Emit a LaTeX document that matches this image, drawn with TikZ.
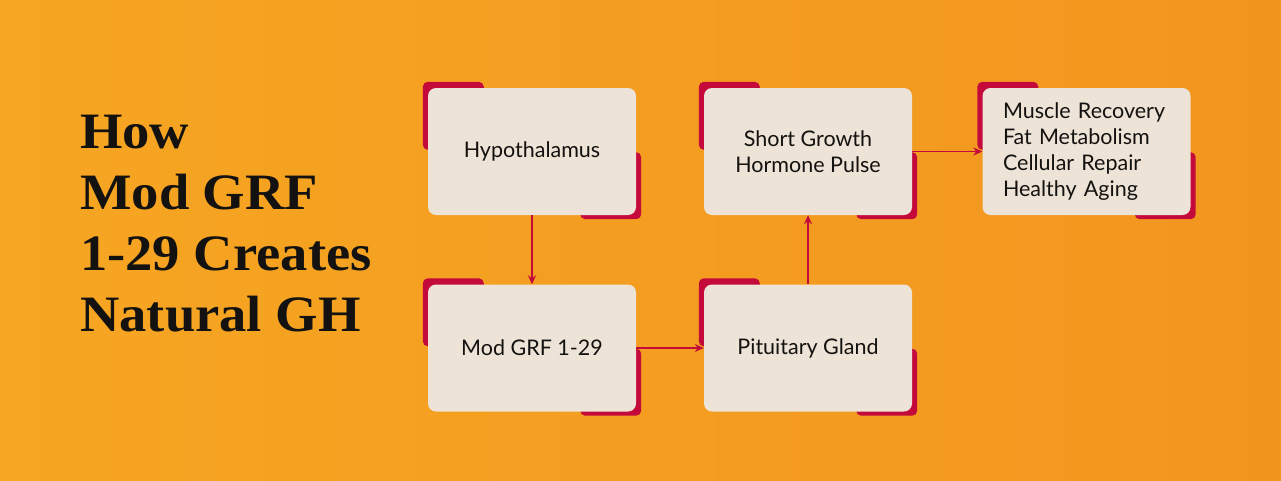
\documentclass[tikz,border=0pt]{standalone}
\usepackage{fontspec}
\setmainfont{Lato}
\newfontfamily\titlefont[FakeStretch=1.07]{Liberation Serif}
\usetikzlibrary{arrows.meta,calc,backgrounds}
\definecolor{sandlight}{HTML}{F6A622}
\definecolor{sanddark}{HTML}{F2951F}
\definecolor{cream}{HTML}{EDE3D6}
\definecolor{crimson}{HTML}{C40A3B}
\definecolor{ink}{HTML}{141210}
\tikzset{
  stage/.style={fill=cream, rounded corners=8pt, minimum width=208pt, minimum height=127pt,
    inner sep=0pt, text=ink, align=center, font=\fontsize{21.5}{26}\selectfont},
  tab/.style={fill=crimson, rounded corners=5pt},
  flow/.style={crimson, line width=1.4pt, -{Stealth[length=9pt,width=8pt]}}
}
\begin{document}
\begin{tikzpicture}[x=1pt,y=-1pt]
	\useasboundingbox (0,0) rectangle (1281,480);
	% title
	\node [anchor=north west, align=left, inner sep=0pt, text=ink,
	  font=\titlefont\bfseries\fontsize{51}{61}\selectfont] (title) at (80,115)
	  {How\\Mod GRF\\1-29 Creates\\Natural GH};
	% stages
	\node [stage] (hyp) at (532,151.5) {Hypothalamus};
	\node [stage] (mod) at (532,348) {Mod GRF 1-29};
	\node [stage] (pit) at (808,348) {Pituitary Gland};
	\node [stage] (pulse) at (808,151.5) {Short Growth\\Hormone Pulse};
	\node [stage, align=left, text width=167pt] (gain) at (1086.5,151.5)
	  {Muscle Recovery\\Fat Metabolism\\Cellular Repair\\Healthy Aging};
	% connectors
	\draw [flow] (hyp) -- (mod);
	\draw [flow] (mod) -- (pit);
	\draw [flow] (pit) -- (pulse);
	\draw [flow] (pulse) -- (gain);
	% backdrop and corner tabs
	\begin{pgfonlayer}{background}
	\shade [left color=sandlight, right color=sanddark] (0,0) rectangle (1281,480);
	\foreach \n in {hyp,mod,pit,pulse,gain} {
		\fill [tab] ($(\n.north west)+(-5,-6)$) rectangle ($(\n.north west)+(56,62)$);
		\fill [tab] ($(\n.south east)+(-56,-63)$) rectangle ($(\n.south east)+(5,4)$);
	}
	\end{pgfonlayer}
\end{tikzpicture}
\end{document}
